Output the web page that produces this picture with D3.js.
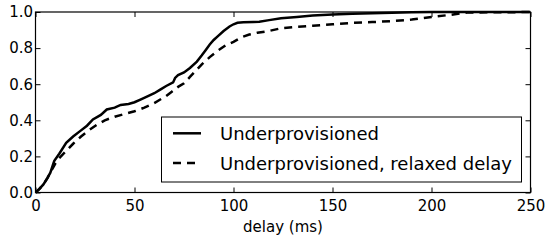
<!DOCTYPE html>
<html>
<head>
<meta charset="utf-8">
<script src="https://cdn.jsdelivr.net/npm/d3@7"></script>
<style>
  html, body { margin: 0; padding: 0; background: #fff; }
  svg { display: block; }
  text { font-family: "DejaVu Sans", sans-serif; fill: #000; }
</style>
</head>
<body>
<svg id="chart" width="546" height="243"></svg>
<script>
const seriesNames = ["Underprovisioned", "Underprovisioned, relaxed delay"];

const solidDelay = [0, 2, 4, 6, 7.5, 9, 9.5, 12, 15.5, 19, 22.5, 26, 29, 33, 36, 40, 43, 47, 50, 53, 56, 60, 63, 66, 69.5, 70.5, 72, 75, 78, 81.5, 84, 86, 88, 90, 92, 95, 98, 100, 102, 105, 110, 113, 118, 124, 132, 140, 150, 160, 175, 190, 200, 250];
const solidCdf = [0, 0.02, 0.045, 0.08, 0.11, 0.16, 0.175, 0.215, 0.275, 0.31, 0.34, 0.37, 0.405, 0.43, 0.46, 0.47, 0.485, 0.49, 0.50, 0.515, 0.53, 0.55, 0.57, 0.59, 0.61, 0.635, 0.65, 0.665, 0.69, 0.725, 0.76, 0.79, 0.82, 0.845, 0.865, 0.895, 0.92, 0.932, 0.94, 0.943, 0.945, 0.946, 0.955, 0.965, 0.972, 0.98, 0.986, 0.99, 0.994, 0.998, 1.0, 1.0];

const dashedDelay = [0, 2, 4, 6, 8, 10, 12, 15, 19, 23, 27, 31, 35, 40, 45, 50, 55, 60, 63, 66, 69, 72, 75, 78, 81, 84, 88, 92, 96, 100, 104, 108, 112, 118, 124, 132, 140, 150, 160, 170, 180, 190, 200, 210, 218, 250];
const dashedCdf = [0, 0.02, 0.045, 0.08, 0.12, 0.16, 0.19, 0.225, 0.27, 0.31, 0.345, 0.375, 0.40, 0.42, 0.435, 0.45, 0.47, 0.495, 0.515, 0.535, 0.56, 0.585, 0.605, 0.64, 0.675, 0.71, 0.75, 0.785, 0.815, 0.835, 0.86, 0.875, 0.885, 0.895, 0.91, 0.918, 0.924, 0.932, 0.94, 0.944, 0.95, 0.958, 0.972, 0.985, 0.997, 1.0];

const xTicks = [0, 50, 100, 150, 200, 250];
const yTicks = [0.0, 0.2, 0.4, 0.6, 0.8, 1.0];
const xLabel = "delay (ms)";

const svg = d3.select("#chart");
const pL = 35.5, pR = 530.5, pT = 12, pB = 192.5;
const x = d3.scaleLinear().domain([0, 250]).range([pL, pR]);
const y = d3.scaleLinear().domain([0, 1]).range([pB, pT]);
const fs = 15, lfs = 18;

svg.append("clipPath").attr("id", "clip")
  .append("rect").attr("x", pL).attr("y", pT - 2).attr("width", pR - pL).attr("height", pB - pT + 4);

const line = d3.line().x(d => x(d[0])).y(d => y(d[1]));
const series = [
  { data: d3.zip(solidDelay, solidCdf), dash: null },
  { data: d3.zip(dashedDelay, dashedCdf), dash: "8,6" }
];

const g = svg.append("g").attr("clip-path", "url(#clip)");
series.forEach(s => {
  g.append("path").datum(s.data).attr("d", line)
    .attr("fill", "none").attr("stroke", "#000").attr("stroke-width", 2.5)
    .attr("stroke-dasharray", s.dash);
});

const tl = 5;
const xb = svg.append("g").attr("transform", `translate(0,${pB})`)
  .call(d3.axisBottom(x).tickValues(xTicks).tickSizeInner(-tl).tickSizeOuter(0).tickPadding(8).tickFormat(d3.format("d")));
const xt = svg.append("g").attr("transform", `translate(0,${pT})`)
  .call(d3.axisTop(x).tickValues(xTicks).tickSizeInner(-tl).tickSizeOuter(0).tickFormat(""));
const yl = svg.append("g").attr("transform", `translate(${pL},0)`)
  .call(d3.axisLeft(y).tickValues(yTicks).tickSizeInner(-tl).tickSizeOuter(0).tickPadding(7).tickFormat(d3.format(".1f")));
const yr = svg.append("g").attr("transform", `translate(${pR},0)`)
  .call(d3.axisRight(y).tickValues(yTicks).tickSizeInner(-tl).tickSizeOuter(0).tickFormat(""));

[xb, xt, yl, yr].forEach(a => {
  a.select(".domain").remove();
  a.selectAll(".tick line").attr("stroke", "#000").attr("stroke-width", 1);
  a.selectAll(".tick text").attr("font-family", "DejaVu Sans").attr("font-size", fs).attr("fill", "#000");
});
xb.selectAll(".tick text").attr("y", 8).attr("dy", "0.72em");
yl.selectAll(".tick text").attr("x", -2.5);

svg.append("rect").attr("x", pL).attr("y", pT).attr("width", pR - pL).attr("height", pB - pT)
  .attr("fill", "none").attr("stroke", "#000").attr("stroke-width", 1.2);

svg.append("text").attr("x", (pL + pR) / 2).attr("y", 231.5)
  .attr("text-anchor", "middle").attr("font-size", fs).text(xLabel);

const lg = svg.append("g");
lg.append("rect").attr("x", 161.5).attr("y", 117).attr("width", 360).attr("height", 65)
  .attr("fill", "#fff").attr("stroke", "#000").attr("stroke-width", 1);
const rowsY = [133.3, 163];
seriesNames.forEach((name, i) => {
  lg.append("line").attr("x1", 173).attr("x2", 201).attr("y1", rowsY[i]).attr("y2", rowsY[i])
    .attr("stroke", "#000").attr("stroke-width", 2.5).attr("stroke-dasharray", series[i].dash);
  lg.append("text").attr("x", 220).attr("y", rowsY[i] + 6.6).attr("font-size", lfs).text(name);
});
</script>
</body>
</html>
